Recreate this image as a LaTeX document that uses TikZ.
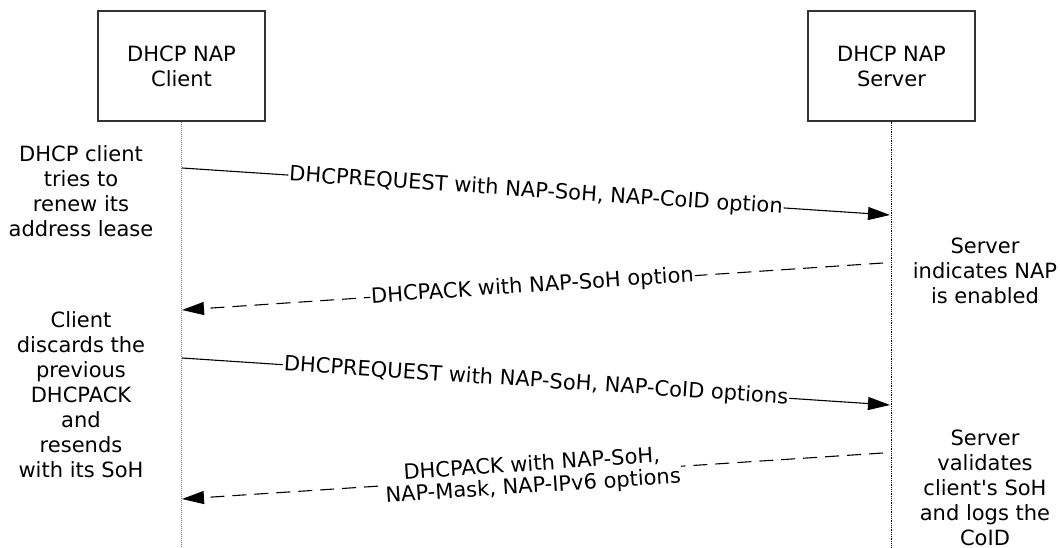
\documentclass[tikz,border=0pt]{standalone}
\usepackage{fontspec}
\newfontfamily\dv{DejaVu Sans}
\usetikzlibrary{arrows.meta}
\begin{document}
\begin{tikzpicture}[x=1pt,y=-1pt,
  font=\dv\fontsize{21}{25}\selectfont,
  actor/.style={draw=black!80, line width=1.4pt, minimum width=167pt, minimum height=110pt, align=center, inner sep=0pt},
  lifeline/.style={densely dotted, line width=1pt},
  msg/.style={line width=1.1pt, -{Triangle[length=22pt,width=13pt]}},
  reply/.style={msg, dash pattern=on 14pt off 8pt},
  lbl/.style={sloped, fill=white, inner sep=1pt, align=center, font=\dv\fontsize{21}{22}\selectfont},
  note/.style={align=center, inner sep=0pt}]
\useasboundingbox (0,0) rectangle (1060,548);
\node[actor] (cl) at (181.5,66) {DHCP NAP\\Client};
\node[actor] (sv) at (891.5,66) {DHCP NAP\\Server};
\coordinate (clend) at (182,548);
\coordinate (svend) at (890,548);
\draw[lifeline, gray] (cl.south) -- (cl.south |- clend);
\draw[lifeline, line width=0.8pt] (sv.south) -- (sv.south |- svend);
% message end points
\coordinate (c1) at (182,168);
\coordinate (s1) at (890,215);
\coordinate (s2) at (883,263);
\coordinate (c2) at (182,310);
\coordinate (c3) at (182,358);
\coordinate (s3) at (890,405);
\coordinate (s4) at (883,453);
\coordinate (c4) at (182,499);
\draw[msg] (c1) -- node[lbl] {DHCPREQUEST with NAP-SoH, NAP-CoID option} (s1);
\draw[reply] (s2) -- node[lbl] {DHCPACK with NAP-SoH option} (c2);
\draw[msg] (c3) -- node[lbl] {DHCPREQUEST with NAP-SoH, NAP-CoID options} (s3);
\draw[reply] (s4) -- node[lbl] {DHCPACK with NAP-SoH,\\NAP-Mask, NAP-IPv6 options} (c4);
% notes
\node[note] (n1) at (81,191) {DHCP client\\tries to\\renew its\\address lease};
\node[note] (n2) at (81,395) {Client\\discards the\\previous\\DHCPACK\\and\\resends\\with its SoH};
\node[note] (n3) at (985,271) {Server\\indicates NAP\\is enabled};
\node[note] (n4) at (985,488) {Server\\validates\\client's SoH\\and logs the\\CoID};
\end{tikzpicture}
\end{document}
